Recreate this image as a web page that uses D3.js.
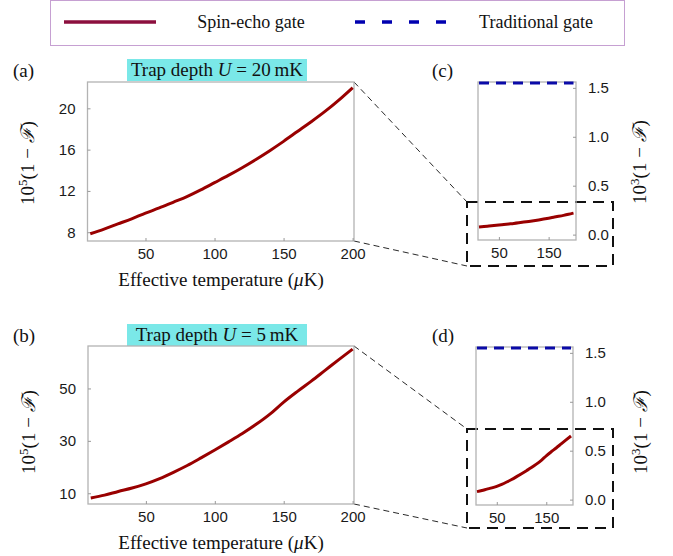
<!DOCTYPE html>
<html>
<head>
<meta charset="utf-8">
<script src="https://cdn.jsdelivr.net/npm/d3@7"></script>
<style>
  body { margin: 0; background: #fff; }
  .tick text { font-family: "Liberation Sans", Arial, sans-serif; font-size: 15px; fill: #1a1a1a; }
  .tick line { stroke: #999; }
  .serif { font-family: "Liberation Serif", "Times New Roman", serif; fill: #111; }
</style>
</head>
<body>
<script>
// temperatures (μK) and infidelities
const temps = [10, 20, 30, 40, 50, 60, 70, 80, 90, 100, 110, 120, 130, 140, 150, 160, 170, 180, 190, 200];
// 10^5 (1 - F), trap depth 20 mK
const spinEcho20 = [7.85, 8.3, 8.8, 9.3, 9.85, 10.35, 10.9, 11.45, 12.1, 12.8, 13.5, 14.25, 15.05, 15.9, 16.8, 17.75, 18.7, 19.7, 20.8, 22.0];
// 10^5 (1 - F), trap depth 5 mK
const spinEcho5 = [8.2, 9.3, 10.7, 12.0, 13.6, 15.6, 18.0, 20.6, 23.5, 26.5, 29.6, 32.8, 36.3, 40.2, 44.8, 48.9, 52.8, 56.9, 61.0, 65.0];
// 10^3 (1 - F) of the traditional gate
const tradTemps = [10, 200];
const traditional20 = [1.55, 1.55];
const traditional5 = [1.55, 1.55];

const xTicksMain = [50, 100, 150, 200];
const xTicksZoom = [50, 150];
const yTicksA = [8, 12, 16, 20];
const yTicksB = [10, 30, 50];
const yTicksZoom = [0, 0.5, 1, 1.5];

const red = "#990000";
const blue = "#0a0aa8";

const svg = d3.select("body").append("svg").attr("width", 673).attr("height", 556);

function yLabel(x, y, power) {
  const t = svg.append("text")
    .attr("class", "serif")
    .attr("transform", `translate(${x}, ${y}) rotate(-90)`)
    .attr("text-anchor", "middle")
    .style("font-size", "19px");
  t.append("tspan").text("10");
  t.append("tspan").attr("dy", -7).style("font-size", "13px").text(power);
  t.append("tspan").attr("dy", 7).text("(1 \u2212 ");
  t.append("tspan").style("font-style", "italic").text("\u2131");
  t.append("tspan").text(")");
}

function panel(p) {
  const x = d3.scaleLinear().domain(p.xDom).range([p.x0, p.x1]);
  const y = d3.scaleLinear().domain(p.yDom).range([p.y1, p.y0]);
  const g = svg.append("g");

  g.append("rect")
    .attr("x", p.x0).attr("y", p.y0)
    .attr("width", p.x1 - p.x0).attr("height", p.y1 - p.y0)
    .attr("fill", "none").attr("stroke", "#b3b3b3").attr("stroke-width", 1.3);

  const xAxis = d3.axisBottom(x).tickValues(p.xTicks).tickSizeInner(-3).tickSizeOuter(0).tickPadding(7);
  g.append("g").attr("transform", `translate(0, ${p.y1})`).call(xAxis)
    .call(a => a.select(".domain").remove());

  const yAxis = (p.right ? d3.axisRight(y) : d3.axisLeft(y))
    .tickValues(p.yTicks).tickSizeInner(-3).tickSizeOuter(0).tickPadding(12)
    .tickFormat(p.yFmt);
  g.append("g").attr("transform", `translate(${p.right ? p.x1 : p.x0}, 0)`).call(yAxis)
    .call(a => a.select(".domain").remove());

  const line = d3.line().curve(d3.curveMonotoneX).x(d => x(d[0])).y(d => y(d[1]));

  if (p.trad) {
    g.append("path")
      .datum(d3.zip(tradTemps, p.trad))
      .attr("d", line)
      .attr("fill", "none").attr("stroke", blue).attr("stroke-width", 3)
      .attr("stroke-dasharray", "10,7");
  }
  g.append("path")
    .datum(d3.zip(temps, p.values))
    .attr("d", line)
    .attr("fill", "none").attr("stroke", red).attr("stroke-width", 3)
    .attr("stroke-linejoin", "round");

  svg.append("text").attr("class", "serif")
    .attr("x", p.tagX).attr("y", p.tagY)
    .style("font-size", "19px").text(p.tag);
}

function title(y, depth) {
  svg.append("rect").attr("x", 127).attr("y", y).attr("width", 180).attr("height", 22)
    .attr("fill", "#7ae8e8");
  const t = svg.append("text").attr("class", "serif")
    .attr("x", 217).attr("y", y + 17).attr("text-anchor", "middle")
    .style("font-size", "19px");
  t.append("tspan").text("Trap depth ");
  t.append("tspan").style("font-style", "italic").text("U");
  t.append("tspan").text(` = ${depth}\u2009mK`);
}

function xLabel(y) {
  const t = svg.append("text").attr("class", "serif")
    .attr("x", 221).attr("y", y).attr("text-anchor", "middle")
    .style("font-size", "19px");
  t.append("tspan").text("Effective temperature (");
  t.append("tspan").style("font-style", "italic").text("\u03bc");
  t.append("tspan").text("K)");
}

function zoomBox(from, box) {
  const conn = [[from.x, from.y0, box.x0, box.y0], [from.x, from.y1, box.x0, box.y1]];
  svg.selectAll(null).data(conn).enter().append("line")
    .attr("x1", d => d[0]).attr("y1", d => d[1])
    .attr("x2", d => d[2]).attr("y2", d => d[3])
    .attr("stroke", "#111").attr("stroke-width", 0.9).attr("stroke-dasharray", "6,4");
  svg.append("rect")
    .attr("x", box.x0).attr("y", box.y0)
    .attr("width", box.x1 - box.x0).attr("height", box.y1 - box.y0)
    .attr("fill", "none").attr("stroke", "#111").attr("stroke-width", 2)
    .attr("stroke-dasharray", "11,7");
}

// legend
svg.append("rect").attr("x", 50.5).attr("y", 0.5).attr("width", 574).attr("height", 45)
  .attr("fill", "none").attr("stroke", "#c6a0d2").attr("stroke-width", 1);
svg.append("line").attr("x1", 64).attr("x2", 156).attr("y1", 22).attr("y2", 22)
  .attr("stroke", "#8c0f3e").attr("stroke-width", 3.5);
svg.append("text").attr("class", "serif").attr("x", 251).attr("y", 28)
  .attr("text-anchor", "middle").style("font-size", "18px").text("Spin-echo gate");
svg.append("line").attr("x1", 355).attr("x2", 447).attr("y1", 22).attr("y2", 22)
  .attr("stroke", "#0000b0").attr("stroke-width", 3.5).attr("stroke-dasharray", "10,17");
svg.append("text").attr("class", "serif").attr("x", 536).attr("y", 28)
  .attr("text-anchor", "middle").style("font-size", "18px").text("Traditional gate");

// (a) and (c)
zoomBox({ x: 354, y0: 82, y1: 241 }, { x0: 467, x1: 613, y0: 202, y1: 266 });
title(59, 20);
panel({ x0: 87.5, x1: 354, y0: 82, y1: 241, xDom: [8, 201], yDom: [7.15, 22.55],
  xTicks: xTicksMain, yTicks: yTicksA, yFmt: d3.format("d"), values: spinEcho20,
  tag: "(a)", tagX: 13, tagY: 77 });
panel({ x0: 478, x1: 576, y0: 82, y1: 240, xDom: [8, 205], yDom: [-0.055, 1.56], right: true,
  xTicks: xTicksZoom, yTicks: yTicksZoom, yFmt: d3.format(".1f"),
  values: spinEcho20.map(v => v / 100), trad: traditional20,
  tag: "(c)", tagX: 432, tagY: 77 });
yLabel(34, 163, "5");
yLabel(646, 162, "3");
xLabel(286);

// (b) and (d)
zoomBox({ x: 354, y0: 346, y1: 504 }, { x0: 467, x1: 613, y0: 429, y1: 528 });
title(324, 5);
panel({ x0: 88, x1: 354, y0: 346, y1: 504, xDom: [8, 201], yDom: [5.9, 66.2],
  xTicks: xTicksMain, yTicks: yTicksB, yFmt: d3.format("d"), values: spinEcho5,
  tag: "(b)", tagX: 13, tagY: 342 });
panel({ x0: 476, x1: 573, y0: 347, y1: 505, xDom: [8, 204], yDom: [-0.055, 1.56], right: true,
  xTicks: xTicksZoom, yTicks: yTicksZoom, yFmt: d3.format(".1f"),
  values: spinEcho5.map(v => v / 100), trad: traditional5,
  tag: "(d)", tagX: 432, tagY: 342 });
yLabel(35, 432, "5");
yLabel(647, 432, "3");
xLabel(549);
</script>
</body>
</html>
